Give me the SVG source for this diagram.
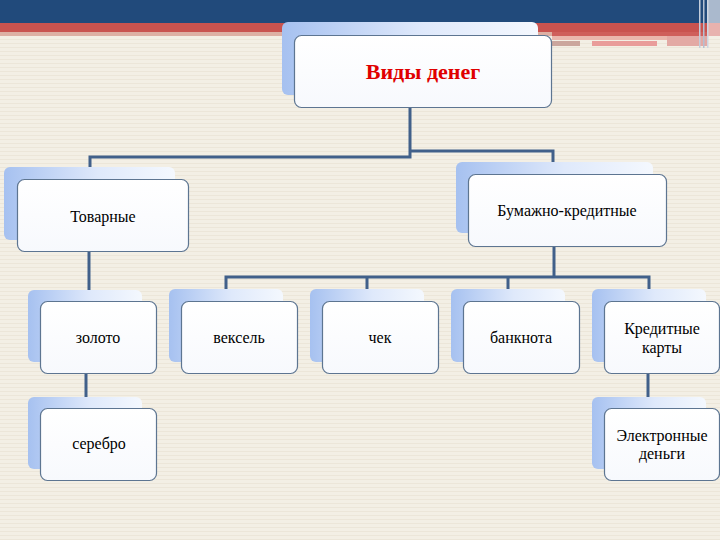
<svg xmlns="http://www.w3.org/2000/svg" width="720" height="540" viewBox="0 0 720 540">
<defs>
<pattern id="stripes" width="8" height="4" patternUnits="userSpaceOnUse">
<rect width="8" height="4" fill="#f3efe5"/>
<rect y="3" width="8" height="1" fill="#ece6d9"/>
</pattern>
<linearGradient id="back" x1="0" y1="0" x2="1" y2="0">
<stop offset="0" stop-color="#a6c1f0"/>
<stop offset="0.55" stop-color="#dfe9fb"/>
<stop offset="1" stop-color="#f4f8fe"/>
</linearGradient>
<linearGradient id="front" x1="0" y1="0" x2="0" y2="1">
<stop offset="0" stop-color="#ffffff"/>
<stop offset="1" stop-color="#f7f9fd"/>
</linearGradient>
<style>
.back{fill:url(#back);}
.front{fill:url(#front);stroke:#5d7591;stroke-width:1.2;}
.t{font-family:"Liberation Serif","Times New Roman",serif;font-size:16px;fill:#000;text-anchor:middle;}
.title{font-family:"Liberation Serif","Times New Roman",serif;font-size:22px;font-weight:bold;fill:#e00000;text-anchor:middle;}
.c{fill:none;stroke:#41608a;stroke-width:3;}
</style>
</defs>
<rect width="720" height="540" fill="url(#stripes)"/>
<!-- header band -->
<rect x="0" y="0" width="720" height="23" fill="#214a7b"/>
<rect x="0" y="23" width="720" height="9" fill="#c9534f"/>
<rect x="0" y="32" width="720" height="4" fill="#ddb0a4"/>
<rect x="552" y="32" width="168" height="4" fill="#cf5f5b"/>
<rect x="552" y="36" width="115" height="4" fill="#eab7ad"/>
<rect x="552" y="41" width="28" height="5" fill="#cba69d"/>
<rect x="592" y="41" width="65" height="5" fill="#e99c9a"/>
<rect x="667" y="36" width="40" height="10" fill="#e3a9a4"/>
<rect x="708" y="0" width="12" height="23" fill="#aab9cd"/>
<rect x="708" y="23" width="12" height="13" fill="#e8b2ae"/>
<rect x="699" y="0" width="1.5" height="48" fill="#c3cddb"/>
<rect x="703" y="0" width="1.5" height="48" fill="#b4c0d2"/>
<rect x="707" y="0" width="1.5" height="48" fill="#cdd6e2"/>
<g id="connectors">
<path class="c" d="M410 108 V157 H90 V167"/>
<path class="c" d="M410 151 H553 V162"/>
<path class="c" d="M89 252 V290"/>
<path class="c" d="M86 374 V397"/>
<path class="c" d="M554 247 V277"/>
<path class="c" d="M226 289 V277 H649 V289"/>
<path class="c" d="M367 277 V289"/>
<path class="c" d="M508 277 V289"/>
<path class="c" d="M648 374 V397"/>
</g>
<g id="n-vidy">
<rect class="back" x="282" y="22" width="256" height="73" rx="6"/>
<rect class="front" x="294.5" y="35.5" width="257" height="72" rx="7"/>
<text class="title" x="423" y="79">Виды денег</text>
</g>
<g id="n-tovarnye">
<rect class="back" x="4" y="167" width="171" height="73" rx="6"/>
<rect class="front" x="17.5" y="179.5" width="171" height="72" rx="7"/>
<text class="t" x="103" y="222">Товарные</text>
</g>
<g id="n-bumazhno">
<rect class="back" x="456" y="162" width="197" height="71" rx="6"/>
<rect class="front" x="468.5" y="174.5" width="198" height="72" rx="7"/>
<text class="t" x="567" y="216">Бумажно-кредитные</text>
</g>
<g id="n-zoloto">
<rect class="back" x="28" y="290" width="114" height="72" rx="6"/>
<rect class="front" x="40.5" y="301.5" width="116" height="72" rx="7"/>
<text class="t" x="98" y="343">золото</text>
</g>
<g id="n-serebro">
<rect class="back" x="28" y="397" width="114" height="72" rx="6"/>
<rect class="front" x="40.5" y="408.5" width="116" height="72" rx="7"/>
<text class="t" x="99" y="449">серебро</text>
</g>
<g id="n-veksel">
<rect class="back" x="169" y="289" width="114" height="73" rx="6"/>
<rect class="front" x="181.5" y="301.5" width="116" height="72" rx="7"/>
<text class="t" x="239" y="343">вексель</text>
</g>
<g id="n-chek">
<rect class="back" x="310" y="289" width="114" height="73" rx="6"/>
<rect class="front" x="322.5" y="301.5" width="116" height="72" rx="7"/>
<text class="t" x="380" y="343">чек</text>
</g>
<g id="n-banknota">
<rect class="back" x="451" y="289" width="114" height="73" rx="6"/>
<rect class="front" x="463.5" y="301.5" width="116" height="72" rx="7"/>
<text class="t" x="521" y="343">банкнота</text>
</g>
<g id="n-kreditnye">
<rect class="back" x="592" y="289" width="114" height="73" rx="6"/>
<rect class="front" x="604.5" y="301.5" width="115" height="72" rx="7"/>
<text class="t" x="662" y="334">Кредитные</text>
<text class="t" x="662" y="353">карты</text>
</g>
<g id="n-elektronnye">
<rect class="back" x="592" y="397" width="114" height="72" rx="6"/>
<rect class="front" x="604.5" y="408.5" width="115" height="72" rx="7"/>
<text class="t" x="662" y="441">Электронные</text>
<text class="t" x="662" y="459">деньги</text>
</g>
</svg>
